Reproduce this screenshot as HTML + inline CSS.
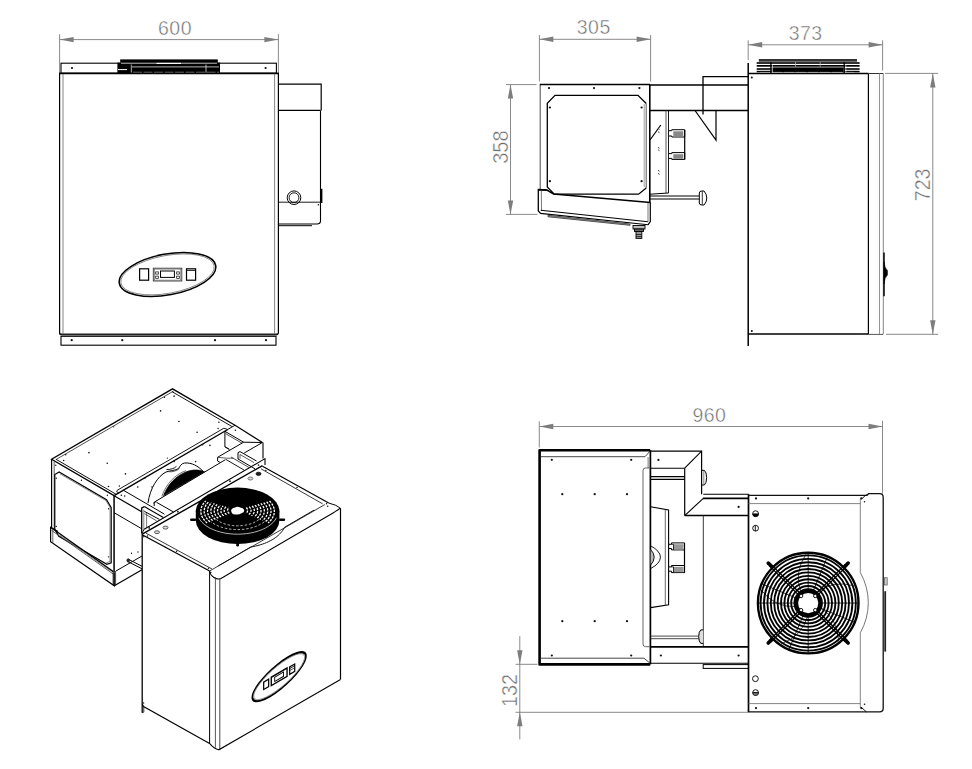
<!DOCTYPE html>
<html><head><meta charset="utf-8"><title>Drawing</title>
<style>html,body{margin:0;padding:0;background:#fff;overflow:hidden}svg{display:block}
text{font-family:"Liberation Sans",sans-serif}</style></head>
<body><svg width="972" height="769" viewBox="0 0 972 769" stroke-linecap="butt" stroke-linejoin="miter">
<rect x="0" y="0" width="972" height="769" fill="#fff"/>
<g id="front">
<line x1="59.60" y1="34.20" x2="59.60" y2="73.00" stroke="#7d7d7d" stroke-width="0.9" />
<line x1="278.40" y1="34.20" x2="278.40" y2="73.00" stroke="#7d7d7d" stroke-width="0.9" />
<line x1="59.60" y1="39.60" x2="278.40" y2="39.60" stroke="#7d7d7d" stroke-width="0.9" />
<polygon points="59.60,39.60 73.60,36.90 73.60,42.30" fill="#7d7d7d"/>
<polygon points="278.40,39.60 264.40,42.30 264.40,36.90" fill="#7d7d7d"/>
<text x="175.00" y="34.80" font-size="19.5" text-anchor="middle" fill="#6e6e6e" stroke="#fff" stroke-width="0.45" letter-spacing="0.5">600</text>
<rect x="61.00" y="63.20" width="215.40" height="10.00" rx="0" stroke="#000" stroke-width="1.1" fill="none"/>
<circle cx="72.00" cy="68.00" r="1.12" fill="#111"/>
<circle cx="265.60" cy="68.00" r="1.12" fill="#111"/>
<g>
<rect x="117.40" y="62.60" width="102.60" height="10.60" rx="0" stroke="#000" stroke-width="0" fill="#000"/>
<rect x="120.20" y="59.40" width="97.60" height="3.20" rx="0" stroke="#000" stroke-width="0" fill="#000"/>
<line x1="121.00" y1="63.40" x2="217.00" y2="63.40" stroke="#fff" stroke-width="0.6" />
<line x1="156.50" y1="63.40" x2="181.00" y2="63.40" stroke="#fff" stroke-width="1.1" />
<line x1="132.00" y1="66.90" x2="219.00" y2="66.90" stroke="#fff" stroke-width="0.7" />
<line x1="118.00" y1="69.60" x2="127.00" y2="69.60" stroke="#fff" stroke-width="1.0" />
<line x1="131.30" y1="64.50" x2="131.30" y2="73.00" stroke="#fff" stroke-width="0.7" />
<line x1="206.00" y1="64.50" x2="206.00" y2="73.00" stroke="#fff" stroke-width="0.7" />
<line x1="133.00" y1="72.30" x2="219.00" y2="72.30" stroke="#fff" stroke-dasharray="9 1.5" stroke-width="0.6" />
</g>
<path d="M59.6 334.6 L59.6 73.4 L278.4 73.4 L278.4 332.6 Q278.4 334.6 276.4 334.6 L61.6 334.6 Q59.6 334.6 59.6 332.6" stroke="#000" stroke-width="1.2" fill="none" />
<line x1="59.20" y1="73.50" x2="278.80" y2="73.50" stroke="#000" stroke-width="1.6" />
<line x1="60.50" y1="334.30" x2="277.50" y2="334.30" stroke="#222" stroke-width="1.8" />
<line x1="63.00" y1="74.00" x2="63.00" y2="333.50" stroke="#666" stroke-width="0.8" />
<line x1="274.60" y1="74.00" x2="274.60" y2="333.50" stroke="#666" stroke-width="0.8" />
<rect x="61.00" y="336.30" width="215.00" height="8.90" rx="0" stroke="#000" stroke-width="1.1" fill="none"/>
<circle cx="71.70" cy="340.20" r="1.12" fill="#111"/>
<circle cx="122.30" cy="340.20" r="1.12" fill="#111"/>
<circle cx="215.00" cy="340.20" r="1.12" fill="#111"/>
<circle cx="266.00" cy="340.20" r="1.12" fill="#111"/>
<path d="M278.40 84.10 L321.20 84.10 L321.20 110.40" stroke="#000" stroke-width="1.2" fill="none" />
<line x1="278.40" y1="110.40" x2="320.60" y2="110.40" stroke="#000" stroke-width="1.1" />
<path d="M320.5 110.4 L320.5 221 Q320.5 224 317 224 L278.4 224" stroke="#000" stroke-width="1.1" fill="none" />
<line x1="278.40" y1="225.70" x2="312.00" y2="225.70" stroke="#000" stroke-width="1.0" />
<line x1="321.60" y1="188.80" x2="321.60" y2="203.00" stroke="#000" stroke-width="1.6" />
<line x1="278.40" y1="202.20" x2="320.50" y2="202.20" stroke="#000" stroke-width="0.9" />
<circle cx="294.00" cy="197.70" r="6.8" stroke="#000" stroke-width="1.0" fill="none"/>
<circle cx="294.00" cy="197.70" r="4.9" stroke="#000" stroke-width="0.9" fill="none"/>
<circle cx="318.40" cy="204.70" r="0.8" fill="#111"/>
<g transform="rotate(-10.5 167.5 274.4)">
<ellipse cx="167.5" cy="274.4" rx="49" ry="20.4" fill="none" stroke="#000" stroke-width="1.5"/>
<ellipse cx="167.5" cy="274.4" rx="47.4" ry="18.9" fill="none" stroke="#444" stroke-width="0.6"/>
</g>
<rect x="139.60" y="268.80" width="9.00" height="11.40" rx="0" stroke="#000" stroke-width="1.2" fill="none"/>
<rect x="153.30" y="268.20" width="28.50" height="12.80" rx="0" stroke="#333" stroke-width="0.9" fill="none"/>
<rect x="154.30" y="269.10" width="26.50" height="11.00" rx="0" stroke="#555" stroke-width="0.6" fill="none"/>
<rect x="160.50" y="271.00" width="13.90" height="6.40" rx="0" stroke="#000" stroke-width="1.0" fill="none"/>
<rect x="155.70" y="271.90" width="2.60" height="2.20" rx="0" stroke="#000" stroke-width="0.7" fill="none"/>
<rect x="155.70" y="276.10" width="2.60" height="2.20" rx="0" stroke="#000" stroke-width="0.7" fill="none"/>
<rect x="176.70" y="271.90" width="2.60" height="2.20" rx="0" stroke="#000" stroke-width="0.7" fill="none"/>
<rect x="176.70" y="276.10" width="2.60" height="2.20" rx="0" stroke="#000" stroke-width="0.7" fill="none"/>
<rect x="186.50" y="268.80" width="9.10" height="11.40" rx="0" stroke="#000" stroke-width="1.2" fill="none"/>
<line x1="186.50" y1="270.40" x2="195.60" y2="270.40" stroke="#000" stroke-width="0.9" />
</g>
<g id="side">
<line x1="539.40" y1="35.00" x2="539.40" y2="81.50" stroke="#7d7d7d" stroke-width="0.9" />
<line x1="650.60" y1="35.00" x2="650.60" y2="81.50" stroke="#7d7d7d" stroke-width="0.9" />
<line x1="539.40" y1="39.30" x2="650.60" y2="39.30" stroke="#7d7d7d" stroke-width="0.9" />
<polygon points="539.40,39.30 553.40,36.60 553.40,42.00" fill="#7d7d7d"/>
<polygon points="650.60,39.30 636.60,42.00 636.60,36.60" fill="#7d7d7d"/>
<text x="593.80" y="34.10" font-size="19.5" text-anchor="middle" fill="#6e6e6e" stroke="#fff" stroke-width="0.45" letter-spacing="0.5">305</text>
<line x1="748.20" y1="40.30" x2="748.20" y2="60.00" stroke="#7d7d7d" stroke-width="0.9" />
<line x1="882.60" y1="40.30" x2="882.60" y2="70.50" stroke="#7d7d7d" stroke-width="0.9" />
<line x1="748.20" y1="44.80" x2="882.60" y2="44.80" stroke="#7d7d7d" stroke-width="0.9" />
<polygon points="748.20,44.80 762.20,42.10 762.20,47.50" fill="#7d7d7d"/>
<polygon points="882.60,44.80 868.60,47.50 868.60,42.10" fill="#7d7d7d"/>
<text x="805.70" y="39.60" font-size="19.5" text-anchor="middle" fill="#6e6e6e" stroke="#fff" stroke-width="0.45" letter-spacing="0.5">373</text>
<line x1="510.50" y1="84.60" x2="510.50" y2="214.40" stroke="#7d7d7d" stroke-width="0.9" />
<line x1="506.00" y1="84.60" x2="536.50" y2="84.60" stroke="#7d7d7d" stroke-width="0.9" />
<line x1="505.80" y1="214.40" x2="537.50" y2="214.40" stroke="#7d7d7d" stroke-width="0.9" />
<polygon points="510.50,84.60 513.20,98.60 507.80,98.60" fill="#7d7d7d"/>
<polygon points="510.50,214.40 507.80,200.40 513.20,200.40" fill="#7d7d7d"/>
<text x="507.80" y="147.10" font-size="21.8" text-anchor="middle" fill="#6e6e6e" stroke="#fff" stroke-width="0.45" letter-spacing="0" transform="rotate(-90 507.80 147.10)" textLength="33.5" lengthAdjust="spacingAndGlyphs">358</text>
<line x1="932.80" y1="73.40" x2="932.80" y2="334.30" stroke="#7d7d7d" stroke-width="0.9" />
<line x1="885.00" y1="73.40" x2="938.20" y2="73.40" stroke="#7d7d7d" stroke-width="0.9" />
<line x1="886.00" y1="334.30" x2="938.20" y2="334.30" stroke="#7d7d7d" stroke-width="0.9" />
<polygon points="932.80,73.40 935.50,87.40 930.10,87.40" fill="#7d7d7d"/>
<polygon points="932.80,334.30 930.10,320.30 935.50,320.30" fill="#7d7d7d"/>
<text x="930.00" y="184.90" font-size="21.8" text-anchor="middle" fill="#6e6e6e" stroke="#fff" stroke-width="0.45" letter-spacing="0" transform="rotate(-90 930.00 184.90)" textLength="32.5" lengthAdjust="spacingAndGlyphs">723</text>
<path d="M540.20 190.00 L540.20 84.60" stroke="#333" stroke-width="0.9" fill="none" />
<line x1="539.80" y1="84.60" x2="650.00" y2="84.60" stroke="#000" stroke-width="1.5" />
<line x1="649.80" y1="84.60" x2="649.80" y2="203.00" stroke="#000" stroke-width="1.6" />
<circle cx="549.00" cy="88.10" r="1.12" fill="#111"/>
<circle cx="594.00" cy="88.10" r="1.12" fill="#111"/>
<circle cx="639.40" cy="88.10" r="1.12" fill="#111"/>
<path d="M646.20 103.50 L638.00 95.40 L555.00 95.40 L547.30 103.20 L547.30 187.00 L554.30 194.20 L638.60 194.20 L646.20 188.00" stroke="#000" stroke-width="1.3" fill="none" />
<line x1="646.20" y1="103.50" x2="646.20" y2="188.00" stroke="#444" stroke-width="0.9" />
<line x1="644.20" y1="104.00" x2="644.20" y2="187.00" stroke="#777" stroke-width="0.7" />
<circle cx="549.90" cy="107.50" r="1.12" fill="#111"/>
<circle cx="641.60" cy="107.50" r="1.12" fill="#111"/>
<circle cx="549.90" cy="181.20" r="1.12" fill="#111"/>
<circle cx="641.60" cy="181.20" r="1.12" fill="#111"/>
<path d="M547.30 189.90 L538.30 189.50 L538.30 211.00 L540.50 213.40" stroke="#000" stroke-width="1.3" fill="none" />
<line x1="541.30" y1="191.00" x2="541.50" y2="211.00" stroke="#555" stroke-width="0.8" />
<path d="M538.30 189.70 L547.30 190.30 L553.60 194.00 L650.30 202.40" stroke="#000" stroke-width="1.5" fill="none" />
<line x1="540.80" y1="210.30" x2="648.00" y2="221.80" stroke="#000" stroke-width="1.1" />
<line x1="540.20" y1="213.40" x2="648.00" y2="224.80" stroke="#000" stroke-width="1.1" />
<path d="M650.30 202.40 L650.30 221.50 L648.00 224.80" stroke="#000" stroke-width="1.2" fill="none" />
<line x1="648.00" y1="203.00" x2="648.00" y2="221.80" stroke="#555" stroke-width="0.8" />
<path d="M548.00 215.30 L630.00 224.00 L630.00 225.30 L548.00 216.80 Z" stroke="#444" stroke-width="0.9" fill="#999" />
<rect x="633.00" y="225.50" width="12.00" height="3.50" rx="0" stroke="#000" stroke-width="0.9" fill="#bbb"/>
<rect x="634.50" y="229.00" width="9.00" height="2.50" rx="0" stroke="#000" stroke-width="0.9" fill="#666"/>
<rect x="636.00" y="231.50" width="5.80" height="6.90" rx="0" stroke="#000" stroke-width="0.9" fill="#999"/>
<line x1="636.00" y1="234.50" x2="641.80" y2="234.50" stroke="#000" stroke-width="0.7" />
<line x1="636.00" y1="236.60" x2="641.80" y2="236.60" stroke="#000" stroke-width="0.7" />
<line x1="650.00" y1="85.00" x2="748.20" y2="85.00" stroke="#000" stroke-width="1.5" />
<line x1="650.00" y1="110.50" x2="748.20" y2="110.50" stroke="#000" stroke-width="1.3" />
<path d="M748.20 76.60 L703.00 76.60 L703.00 114.50" stroke="#000" stroke-width="1.3" fill="none" />
<path d="M695.00 110.50 L716.00 110.50 L716.00 140.00 L695.00 110.50" stroke="#000" stroke-width="1.2" fill="none" />
<line x1="666.00" y1="110.50" x2="666.00" y2="193.00" stroke="#444" stroke-width="0.9" />
<line x1="668.50" y1="110.50" x2="668.50" y2="193.00" stroke="#000" stroke-width="0.9" />
<path d="M650.00 194.20 L668.50 193.00" stroke="#000" stroke-width="1.0" fill="none" />
<line x1="650.00" y1="140.00" x2="660.80" y2="125.00" stroke="#000" stroke-width="1.2" />
<line x1="658.30" y1="128.00" x2="659.30" y2="129.60" stroke="#333" stroke-width="0.9" />
<line x1="658.30" y1="131.50" x2="659.30" y2="133.10" stroke="#333" stroke-width="0.9" />
<line x1="658.30" y1="147.00" x2="659.30" y2="148.60" stroke="#333" stroke-width="0.9" />
<line x1="658.30" y1="149.50" x2="659.30" y2="151.10" stroke="#333" stroke-width="0.9" />
<line x1="658.30" y1="170.00" x2="659.30" y2="171.60" stroke="#333" stroke-width="0.9" />
<line x1="658.30" y1="173.00" x2="659.30" y2="174.60" stroke="#333" stroke-width="0.9" />
<path d="M668.80 130.70 L671.80 130.70 L671.80 129.70 L684.70 129.70 L684.70 137.00 L671.80 137.00 L671.80 136.00 L668.80 136.00" stroke="#000" stroke-width="1.0" fill="none" />
<rect x="673.30" y="131.30" width="9.90" height="5.10" rx="0" stroke="#000" stroke-width="0" fill="#888"/>
<path d="M668.80 153.60 L671.80 153.60 L671.80 152.60 L684.70 152.60 L684.70 159.40 L671.80 159.40 L671.80 158.40 L668.80 158.40" stroke="#000" stroke-width="1.0" fill="none" />
<rect x="673.30" y="154.20" width="9.90" height="4.60" rx="0" stroke="#000" stroke-width="0" fill="#888"/>
<line x1="684.70" y1="130.00" x2="684.70" y2="159.40" stroke="#000" stroke-width="1.2" />
<line x1="650.00" y1="196.00" x2="699.30" y2="196.00" stroke="#000" stroke-width="1.0" />
<line x1="650.00" y1="199.00" x2="699.30" y2="199.00" stroke="#000" stroke-width="1.0" />
<path d="M699.3 193 Q699.3 191 702 191 L704 191 Q706.8 194 706.8 198 Q706.8 202 704 205 L702 205 Q699.3 205 699.3 203 Z" stroke="#000" stroke-width="1.0" fill="none" />
<line x1="702.30" y1="191.40" x2="702.30" y2="204.60" stroke="#000" stroke-width="0.8" />
<line x1="748.20" y1="63.00" x2="748.20" y2="346.00" stroke="#000" stroke-width="1.5" />
<line x1="748.20" y1="73.50" x2="868.40" y2="73.50" stroke="#000" stroke-width="1.6" />
<line x1="868.40" y1="73.50" x2="883.30" y2="73.50" stroke="#333" stroke-width="1.0" />
<line x1="748.20" y1="334.10" x2="868.40" y2="334.10" stroke="#000" stroke-width="1.5" />
<line x1="861.00" y1="334.40" x2="883.30" y2="334.40" stroke="#444" stroke-width="0.9" />
<line x1="868.40" y1="73.50" x2="868.40" y2="334.10" stroke="#000" stroke-width="1.2" />
<line x1="879.50" y1="73.50" x2="879.50" y2="334.10" stroke="#888" stroke-width="0.9" />
<line x1="883.30" y1="73.50" x2="883.30" y2="334.10" stroke="#777" stroke-width="0.9" />
<circle cx="751.80" cy="77.50" r="1.0" fill="#111"/>
<circle cx="751.80" cy="331.00" r="1.0" fill="#111"/>
<line x1="884.00" y1="252.50" x2="884.00" y2="296.30" stroke="#000" stroke-width="1.5" />
<path d="M884 262 Q884.5 268 887.4 270.5 L887.4 275 Q884.5 277.5 884 284 Z" stroke="#000" stroke-width="0.6" fill="#000" />
<rect x="758.80" y="59.00" width="98.20" height="2.70" rx="0" stroke="#000" stroke-width="0" fill="#333"/>
<rect x="756.70" y="62.10" width="102.90" height="1.80" rx="0" stroke="#000" stroke-width="0" fill="#1a1a1a"/>
<rect x="756.70" y="65.00" width="102.90" height="1.70" rx="0" stroke="#000" stroke-width="0" fill="#000"/>
<rect x="771.50" y="67.40" width="72.10" height="4.60" rx="0" stroke="#000" stroke-width="0" fill="#000"/>
<rect x="756.70" y="68.20" width="14.80" height="1.60" rx="0" stroke="#000" stroke-width="0" fill="#000"/>
<rect x="756.70" y="70.80" width="14.80" height="1.20" rx="0" stroke="#000" stroke-width="0" fill="#000"/>
<rect x="843.60" y="68.20" width="16.00" height="1.60" rx="0" stroke="#000" stroke-width="0" fill="#000"/>
<rect x="843.60" y="70.80" width="16.00" height="1.20" rx="0" stroke="#000" stroke-width="0" fill="#000"/>
<line x1="760.00" y1="72.40" x2="856.00" y2="72.40" stroke="#fff" stroke-dasharray="10 2" stroke-width="0.6" />
<rect x="756.70" y="72.70" width="102.90" height="0.80" rx="0" stroke="#000" stroke-width="0" fill="#000"/>
<line x1="770.90" y1="62.00" x2="770.90" y2="73.00" stroke="#000" stroke-width="1.3" />
<line x1="772.50" y1="64.00" x2="772.50" y2="72.50" stroke="#fff" stroke-width="0.6" />
<line x1="844.20" y1="62.00" x2="844.20" y2="73.00" stroke="#000" stroke-width="1.3" />
<line x1="845.80" y1="64.00" x2="845.80" y2="72.50" stroke="#fff" stroke-width="0.6" />
<line x1="795.50" y1="62.00" x2="795.50" y2="66.80" stroke="#bbb" stroke-width="0.7" />
<line x1="820.20" y1="62.00" x2="820.20" y2="66.80" stroke="#bbb" stroke-width="0.7" />
</g>
<g id="top">
<line x1="539.30" y1="421.30" x2="539.30" y2="447.50" stroke="#7d7d7d" stroke-width="0.9" />
<line x1="882.50" y1="420.80" x2="882.50" y2="493.60" stroke="#7d7d7d" stroke-width="0.9" />
<line x1="539.30" y1="426.50" x2="882.50" y2="426.50" stroke="#7d7d7d" stroke-width="0.9" />
<polygon points="539.30,426.50 553.30,423.80 553.30,429.20" fill="#7d7d7d"/>
<polygon points="882.50,426.50 868.50,429.20 868.50,423.80" fill="#7d7d7d"/>
<text x="709.40" y="421.80" font-size="19.5" text-anchor="middle" fill="#6e6e6e" stroke="#fff" stroke-width="0.45" letter-spacing="0.5">960</text>
<line x1="519.80" y1="636.20" x2="519.80" y2="739.40" stroke="#7d7d7d" stroke-width="0.9" />
<line x1="515.60" y1="664.30" x2="537.50" y2="664.30" stroke="#7d7d7d" stroke-width="0.9" />
<line x1="515.60" y1="712.30" x2="748.00" y2="712.30" stroke="#7d7d7d" stroke-width="0.9" />
<polygon points="519.80,664.30 517.10,650.30 522.50,650.30" fill="#7d7d7d"/>
<polygon points="519.80,712.30 522.50,726.30 517.10,726.30" fill="#7d7d7d"/>
<text x="517.00" y="690.40" font-size="21.8" text-anchor="middle" fill="#6e6e6e" stroke="#fff" stroke-width="0.45" letter-spacing="0" transform="rotate(-90 517.00 690.40)" textLength="33" lengthAdjust="spacingAndGlyphs">132</text>
<path d="M650.20 450.30 L539.60 450.30 L539.60 664.40 L650.20 664.40" stroke="#000" stroke-width="2.6" fill="none" stroke-linejoin="round"/>
<path d="M541.00 456.70 L645.00 456.70 L650.00 451.20" stroke="#333" stroke-width="0.9" fill="none" />
<path d="M541.00 658.20 L644.00 658.20 L650.00 663.30" stroke="#333" stroke-width="0.9" fill="none" />
<line x1="650.40" y1="450.30" x2="650.40" y2="664.40" stroke="#000" stroke-width="1.7" />
<line x1="648.10" y1="457.00" x2="648.10" y2="468.00" stroke="#555" stroke-width="0.8" />
<path d="M650 468 L645.4 468 Q643 468 643 470.5 L643 644 Q643 646.7 645.6 646.7 L650 646.7" stroke="#555" stroke-width="0.9" fill="none" />
<circle cx="551.80" cy="459.80" r="1.12" fill="#111"/>
<circle cx="551.80" cy="655.50" r="1.12" fill="#111"/>
<circle cx="631.20" cy="459.80" r="1.12" fill="#111"/>
<circle cx="631.20" cy="655.50" r="1.12" fill="#111"/>
<circle cx="562.30" cy="494.20" r="1.12" fill="#111"/>
<circle cx="562.30" cy="621.20" r="1.12" fill="#111"/>
<circle cx="594.70" cy="494.20" r="1.12" fill="#111"/>
<circle cx="594.70" cy="621.20" r="1.12" fill="#111"/>
<circle cx="627.00" cy="494.20" r="1.12" fill="#111"/>
<circle cx="627.00" cy="621.20" r="1.12" fill="#111"/>
<circle cx="658.40" cy="459.90" r="1.12" fill="#111"/>
<circle cx="660.90" cy="655.50" r="1.12" fill="#111"/>
<circle cx="738.60" cy="506.90" r="1.12" fill="#111"/>
<circle cx="738.60" cy="655.50" r="1.12" fill="#111"/>
<path d="M650.40 451.10 L701.60 451.10 L701.60 494.20" stroke="#000" stroke-width="1.2" fill="none" />
<line x1="701.60" y1="451.10" x2="684.70" y2="468.20" stroke="#000" stroke-width="1.1" />
<line x1="650.60" y1="468.20" x2="684.70" y2="468.20" stroke="#000" stroke-width="1.1" />
<line x1="650.60" y1="476.60" x2="684.70" y2="476.60" stroke="#000" stroke-width="1.1" />
<line x1="650.60" y1="479.40" x2="684.70" y2="479.40" stroke="#000" stroke-width="1.1" />
<line x1="684.70" y1="468.20" x2="684.70" y2="515.60" stroke="#000" stroke-width="1.2" />
<line x1="684.70" y1="515.60" x2="703.30" y2="498.30" stroke="#000" stroke-width="1.1" />
<line x1="703.30" y1="494.20" x2="748.50" y2="494.20" stroke="#000" stroke-width="1.1" />
<line x1="703.00" y1="498.30" x2="748.50" y2="498.30" stroke="#000" stroke-width="1.7" />
<line x1="684.70" y1="515.60" x2="748.50" y2="515.60" stroke="#000" stroke-width="1.5" />
<line x1="703.30" y1="515.60" x2="703.30" y2="646.70" stroke="#222" stroke-width="0.9" />
<path d="M701.6 470.3 L704.3 470.3 Q706.6 472 706.6 477.6 Q706.6 483.3 704.3 485 L701.6 485" stroke="#000" stroke-width="1.0" fill="none" />
<line x1="703.80" y1="470.60" x2="703.80" y2="484.80" stroke="#555" stroke-width="0.7" />
<path d="M650.60 506.80 L668.60 510.00 L668.60 604.80 L650.60 607.60" stroke="#000" stroke-width="1.1" fill="none" />
<path d="M665.30 509.50 L665.30 605.40" stroke="#444" stroke-width="0.8" fill="none" />
<path d="M650.6 545.8 Q660.4 551 660.4 557.2 Q660.4 563.4 650.6 568.6" stroke="#000" stroke-width="0.9" fill="none" />
<path d="M650.6 549.5 Q654.2 553 654.2 557.2 Q654.2 561.4 650.6 565" stroke="#000" stroke-width="0.9" fill="#bbb" />
<path d="M669.00 544.30 L671.50 544.30 L671.50 542.90 L684.50 542.90 L684.50 549.90 L671.50 549.90 L671.50 548.50 L669.00 548.50" stroke="#000" stroke-width="1.0" fill="none" />
<rect x="673.50" y="544.20" width="10.00" height="5.30" rx="0" stroke="#000" stroke-width="0" fill="#999"/>
<path d="M671.50 544.30 L673.50 544.30 L673.50 549.90" stroke="#000" stroke-width="0.8" fill="none" />
<path d="M669.00 566.90 L671.50 566.90 L671.50 565.50 L684.50 565.50 L684.50 572.60 L671.50 572.60 L671.50 571.20 L669.00 571.20" stroke="#000" stroke-width="1.0" fill="none" />
<rect x="673.50" y="566.80" width="10.00" height="5.40" rx="0" stroke="#000" stroke-width="0" fill="#999"/>
<path d="M671.50 566.90 L673.50 566.90 L673.50 572.60" stroke="#000" stroke-width="0.8" fill="none" />
<line x1="684.50" y1="543.00" x2="684.50" y2="572.60" stroke="#000" stroke-width="1.2" />
<line x1="650.60" y1="636.10" x2="698.70" y2="636.10" stroke="#333" stroke-width="0.9" />
<line x1="650.60" y1="638.70" x2="698.70" y2="638.70" stroke="#333" stroke-width="0.9" />
<path d="M703.2 629.9 L700.8 629.9 Q698.7 631.5 698.7 636.6 Q698.7 641.8 700.8 643.4 L703.2 643.4" stroke="#000" stroke-width="1.0" fill="#ddd" />
<line x1="650.40" y1="646.90" x2="748.50" y2="646.90" stroke="#000" stroke-width="1.6" />
<line x1="650.40" y1="663.30" x2="748.50" y2="663.30" stroke="#000" stroke-width="1.1" />
<rect x="703.20" y="664.60" width="45.30" height="3.80" rx="0" stroke="#000" stroke-width="1.0" fill="none"/>
<line x1="748.50" y1="494.20" x2="748.50" y2="712.30" stroke="#000" stroke-width="1.7" />
<path d="M748.5 495.3 L867 495.3 L868.6 493.7 L879.5 493.7 Q883.2 493.7 883.2 497.4 L883.2 708.2 Q883.2 711.9 879.5 711.9 L868.6 711.9 L867 711.9 L748.5 711.9" stroke="#111" stroke-width="1.3" fill="none" />
<line x1="748.50" y1="503.60" x2="860.30" y2="503.60" stroke="#777" stroke-width="0.9" />
<line x1="748.50" y1="703.60" x2="860.30" y2="703.60" stroke="#777" stroke-width="0.9" />
<line x1="860.30" y1="498.80" x2="860.30" y2="572.50" stroke="#777" stroke-width="0.9" />
<line x1="860.30" y1="632.80" x2="860.30" y2="708.00" stroke="#777" stroke-width="0.9" />
<path d="M860.3 572.5 Q868.3 587 868.3 602.7 Q868.3 618.4 860.3 632.8" stroke="#666" stroke-width="0.9" fill="none" />
<circle cx="756.00" cy="498.40" r="1.12" fill="#111"/>
<circle cx="756.00" cy="708.10" r="1.12" fill="#111"/>
<circle cx="808.20" cy="498.40" r="1.12" fill="#111"/>
<circle cx="808.20" cy="708.10" r="1.12" fill="#111"/>
<circle cx="861.30" cy="498.40" r="1.12" fill="#111"/>
<circle cx="861.30" cy="708.10" r="1.12" fill="#111"/>
<circle cx="864.50" cy="501.80" r="0.8" fill="#111"/>
<circle cx="864.60" cy="704.30" r="0.8" fill="#111"/>
<path d="M861.50 499.00 L866.50 494.50" stroke="#000" stroke-width="0.9" fill="none" />
<path d="M861.50 707.50 L866.50 712.00" stroke="#000" stroke-width="0.9" fill="none" />
<circle cx="755.60" cy="513.70" r="2.9" stroke="#000" stroke-width="0.9" fill="none"/>
<path d="M752.7 513.7 A2.9 2.9 0 0 0 758.5 513.7 Z" stroke="#000" stroke-width="0.5" fill="#000" />
<circle cx="755.60" cy="528.20" r="2.9" stroke="#000" stroke-width="0.9" fill="none"/>
<line x1="755.30" y1="525.30" x2="755.30" y2="531.10" stroke="#000" stroke-width="0.9" />
<circle cx="755.40" cy="678.70" r="2.9" stroke="#000" stroke-width="0.9" fill="none"/>
<circle cx="755.60" cy="692.60" r="2.9" stroke="#000" stroke-width="0.9" fill="none"/>
<path d="M752.7 692.6 A2.9 2.9 0 0 0 758.5 692.6 Z" stroke="#000" stroke-width="0.5" fill="#777" />
<line x1="752.70" y1="692.60" x2="758.50" y2="692.60" stroke="#000" stroke-width="0.8" />
<rect x="884.40" y="577.70" width="2.80" height="7.30" rx="0" stroke="#666" stroke-width="0.8" fill="#ccc"/>
<line x1="885.20" y1="591.20" x2="885.20" y2="651.60" stroke="#222" stroke-width="1.8" />
<g transform="translate(808.2 603.05)" stroke="#000" fill="none" vector-effect="non-scaling-stroke">
<path d="M12.2 4.4 Q29.9 16.3 30.5 38.4" stroke-width="0.8" stroke="#222"/>
<path d="M-0.5 13.0 Q-6.3 33.4 -27.1 40.9" stroke-width="0.8" stroke="#222"/>
<path d="M-12.5 3.6 Q-33.7 4.4 -47.2 -13.1" stroke-width="0.8" stroke="#222"/>
<path d="M-7.3 -10.8 Q-14.6 -30.7 -2.1 -49.0" stroke-width="0.8" stroke="#222"/>
<path d="M8.0 -10.2 Q24.7 -23.4 45.9 -17.2" stroke-width="0.8" stroke="#222"/>
<circle r="17" stroke-width="1.85"/>
<circle r="20.4" stroke-width="1.85"/>
<circle r="23.8" stroke-width="1.85"/>
<circle r="27.2" stroke-width="1.85"/>
<circle r="30.6" stroke-width="1.85"/>
<circle r="34" stroke-width="1.85"/>
<circle r="37.4" stroke-width="1.85"/>
<circle r="40.8" stroke-width="1.85"/>
<circle r="44.2" stroke-width="1.85"/>
<circle r="47.6" stroke-width="1.85"/>
<circle r="50.3" stroke-width="2.4"/>
<circle r="12.4" stroke-width="4.6"/>
<line x1="9.97" y1="8.41" x2="38.96" y2="37.41" stroke-width="1.3"/>
<line x1="8.41" y1="9.97" x2="37.41" y2="38.96" stroke-width="1.3"/>
<line x1="36.06" y1="36.06" x2="39.95" y2="39.95" stroke-width="3.6" stroke-linecap="round"/>
<circle cx="7.07" cy="7.07" r="1.7" stroke-width="0.9" fill="#fff"/>
<line x1="-8.41" y1="9.97" x2="-37.41" y2="38.96" stroke-width="1.3"/>
<line x1="-9.97" y1="8.41" x2="-38.96" y2="37.41" stroke-width="1.3"/>
<line x1="-36.06" y1="36.06" x2="-39.95" y2="39.95" stroke-width="3.6" stroke-linecap="round"/>
<circle cx="-7.07" cy="7.07" r="1.7" stroke-width="0.9" fill="#fff"/>
<line x1="-9.97" y1="-8.41" x2="-38.96" y2="-37.41" stroke-width="1.3"/>
<line x1="-8.41" y1="-9.97" x2="-37.41" y2="-38.96" stroke-width="1.3"/>
<line x1="-36.06" y1="-36.06" x2="-39.95" y2="-39.95" stroke-width="3.6" stroke-linecap="round"/>
<circle cx="-7.07" cy="-7.07" r="1.7" stroke-width="0.9" fill="#fff"/>
<line x1="8.41" y1="-9.97" x2="37.41" y2="-38.96" stroke-width="1.3"/>
<line x1="9.97" y1="-8.41" x2="38.96" y2="-37.41" stroke-width="1.3"/>
<line x1="36.06" y1="-36.06" x2="39.95" y2="-39.95" stroke-width="3.6" stroke-linecap="round"/>
<circle cx="7.07" cy="-7.07" r="1.7" stroke-width="0.9" fill="#fff"/>
<line x1="12.93" y1="5.36" x2="46.19" y2="19.13" stroke-width="0.8"/>
<line x1="14.00" y1="0.00" x2="50.00" y2="0.00" stroke-width="0.8"/>
<line x1="-5.36" y1="12.93" x2="-19.13" y2="46.19" stroke-width="0.8"/>
<line x1="0.00" y1="14.00" x2="0.00" y2="50.00" stroke-width="0.8"/>
<line x1="-12.93" y1="-5.36" x2="-46.19" y2="-19.13" stroke-width="0.8"/>
<line x1="-14.00" y1="0.00" x2="-50.00" y2="0.00" stroke-width="0.8"/>
<line x1="5.36" y1="-12.93" x2="19.13" y2="-46.19" stroke-width="0.8"/>
<line x1="-0.00" y1="-14.00" x2="-0.00" y2="-50.00" stroke-width="0.8"/>
</g>
</g>
<g id="iso">
<path d="M114.08 495.66 L51.59 459.27 L172.52 388.86 L235.01 425.24" stroke="#000" stroke-width="1.3" fill="none" />
<path d="M56.45 459.27 L173.73 390.98" stroke="#222" stroke-width="0.8" fill="none" />
<path d="M171.91 391.57 L231.97 426.54" stroke="#111" stroke-width="1.0" fill="none" />
<path d="M55.84 459.16 L115.90 494.13" stroke="#111" stroke-width="1.0" fill="none" />
<path d="M114.08 495.66 L227.73 429.48" stroke="#000" stroke-width="1.4" fill="none" />
<path d="M117.11 490.36 L223.88 428.19" stroke="#000" stroke-width="0.9" fill="none" />
<path d="M117.11 490.36 L116.71 492.01 L118.93 492.83" stroke="#000" stroke-width="0.8" fill="none" />
<path d="M223.88 428.19 L227.73 429.48" stroke="#000" stroke-width="0.9" fill="none" />
<path d="M227.73 429.48 L235.01 425.24" stroke="#000" stroke-width="1.0" fill="none" />
<circle cx="174.09" cy="396.16" r="0.8" fill="#111"/>
<circle cx="218.90" cy="422.25" r="0.8" fill="#111"/>
<circle cx="63.64" cy="460.47" r="0.8" fill="#111"/>
<circle cx="108.45" cy="486.57" r="0.8" fill="#111"/>
<circle cx="160.60" cy="410.92" r="0.8" fill="#111"/>
<circle cx="178.89" cy="421.56" r="0.8" fill="#111"/>
<circle cx="197.12" cy="432.18" r="0.8" fill="#111"/>
<circle cx="88.93" cy="452.65" r="0.8" fill="#111"/>
<circle cx="107.21" cy="463.30" r="0.8" fill="#111"/>
<circle cx="125.44" cy="473.92" r="0.8" fill="#111"/>
<circle cx="164.50" cy="397.28" r="0.7" fill="#111"/>
<circle cx="113.70" cy="426.85" r="0.7" fill="#111"/>
<circle cx="65.73" cy="454.79" r="0.7" fill="#111"/>
<circle cx="218.11" cy="428.50" r="0.7" fill="#111"/>
<circle cx="167.32" cy="458.08" r="0.7" fill="#111"/>
<circle cx="119.35" cy="486.01" r="0.7" fill="#111"/>
<line x1="51.59" y1="459.27" x2="51.59" y2="528.00" stroke="#000" stroke-width="1.2" />
<line x1="114.08" y1="495.66" x2="114.08" y2="572.00" stroke="#000" stroke-width="1.5" />
<line x1="54.19" y1="461.87" x2="54.19" y2="529.50" stroke="#333" stroke-width="0.8" />
<path d="M59.18 472.05 L106.53 499.62 L111.20 507.63 L111.20 562.80 L106.87 564.33 L58.78 536.32 L54.79 529.30 L54.79 474.59 Z" stroke="#000" stroke-width="1.2" fill="none" />
<path d="M59.75 473.69 L105.96 500.59 L110.06 507.62 L110.06 561.48 L106.30 562.69" stroke="#555" stroke-width="0.7" fill="none" />
<circle cx="55.76" cy="465.29" r="0.7" fill="#111"/>
<circle cx="81.43" cy="480.24" r="0.7" fill="#111"/>
<circle cx="107.33" cy="495.32" r="0.7" fill="#111"/>
<circle cx="56.27" cy="478.26" r="0.7" fill="#111"/>
<circle cx="108.58" cy="508.72" r="0.7" fill="#111"/>
<circle cx="56.27" cy="526.38" r="0.7" fill="#111"/>
<circle cx="108.58" cy="556.83" r="0.7" fill="#111"/>
<path d="M58.00 531.50 L50.60 527.30 L50.60 541.80 L114.30 585.80 L114.30 572.20" stroke="#000" stroke-width="1.2" fill="none" />
<line x1="50.60" y1="527.30" x2="113.20" y2="571.60" stroke="#000" stroke-width="1.3" />
<line x1="51.50" y1="530.30" x2="113.20" y2="574.00" stroke="#333" stroke-width="0.8" />
<line x1="113.20" y1="571.60" x2="113.20" y2="585.20" stroke="#000" stroke-width="1.0" />
<line x1="115.60" y1="571.20" x2="115.60" y2="585.60" stroke="#333" stroke-width="0.9" />
<line x1="52.80" y1="529.00" x2="52.80" y2="543.00" stroke="#444" stroke-width="0.8" />
<path d="M114.30 585.80 L142.00 569.80" stroke="#000" stroke-width="1.2" fill="none" />
<path d="M115.60 571.20 L142.00 556.00" stroke="#000" stroke-width="1.0" fill="none" />
<line x1="60.00" y1="535.40" x2="110.00" y2="570.40" stroke="#777" stroke-width="0.9" />
<line x1="128.60" y1="559.40" x2="142.00" y2="566.30" stroke="#000" stroke-width="1.0" />
<line x1="127.60" y1="561.40" x2="142.00" y2="568.80" stroke="#000" stroke-width="1.0" />
<ellipse cx="128.2" cy="560.4" rx="1.3" ry="1.7" fill="#333" stroke="#000" stroke-width="0.6"/>
<circle cx="131.50" cy="553.20" r="0.7" fill="#111"/>
<circle cx="138.00" cy="552.00" r="0.7" fill="#111"/>
<line x1="114.08" y1="495.66" x2="141.58" y2="511.67" stroke="#000" stroke-width="1.2" />
<line x1="123.38" y1="490.24" x2="164.43" y2="514.14" stroke="#000" stroke-width="1.0" />
<line x1="114.08" y1="512.66" x2="141.58" y2="528.67" stroke="#000" stroke-width="1.0" />
<circle cx="121.36" cy="495.19" r="0.8" fill="#111"/>
<path d="M141.70 533.40 L141.70 508.00 L144.40 506.60" stroke="#000" stroke-width="1.3" fill="none" />
<line x1="143.80" y1="509.50" x2="143.80" y2="530.00" stroke="#777" stroke-width="0.9" />
<path d="M144.40 506.60 L163.30 517.60" stroke="#000" stroke-width="1.1" fill="none" />
<path d="M144.40 511.40 L159.40 519.40" stroke="#000" stroke-width="1.0" fill="none" />
<path d="M146.60 512.80 L146.60 527.80" stroke="#555" stroke-width="0.8" fill="none" />
<path d="M144.40 513.60 L156.60 520.80" stroke="#333" stroke-width="0.8" fill="none" />
<circle cx="144.90" cy="477.90" r="0.8" fill="#111"/>
<circle cx="137.70" cy="487.00" r="0.8" fill="#111"/>
<circle cx="152.00" cy="487.00" r="0.8" fill="#111"/>
<circle cx="174.10" cy="461.60" r="0.8" fill="#111"/>
<circle cx="195.60" cy="461.60" r="0.8" fill="#111"/>
<circle cx="202.70" cy="444.70" r="0.8" fill="#111"/>
<circle cx="209.90" cy="445.40" r="0.8" fill="#111"/>
<circle cx="124.70" cy="496.00" r="0.8" fill="#111"/>
<path d="M148 503 C150 488 158 476 166 472 C170 470.5 176 470.5 178.5 468.5 C180 466.5 181 463.5 184.5 463 C192 462.5 198 466 203 471.2" stroke="#000" stroke-width="1.0" fill="none" />
<path d="M166.5 469.5 C170 469.8 174.5 468.5 176.5 466.3" stroke="#000" stroke-width="0.9" fill="none" />
<path d="M168.5 471.7 C172 472.2 177 471 179.5 468.3" stroke="#333" stroke-width="0.8" fill="none" />
<path d="M163.6 495.6 C168 484 176 476 186 472 C193 469.3 199 469.6 204.5 471.8 L163.6 495.6 Z" stroke="#000" stroke-width="0.8" fill="#000" />
<path d="M161.8 496.4 C166 484 175 474.5 186 470.6" stroke="#333" stroke-width="0.7" fill="none" />
<path d="M154.20 506.00 L154.20 502.20 L225.50 459.60" stroke="#000" stroke-width="1.0" fill="none" />
<path d="M153.30 503.20 L156.20 501.60" stroke="#000" stroke-width="0.8" fill="none" />
<line x1="156.50" y1="502.30" x2="173.60" y2="512.00" stroke="#000" stroke-width="1.0" />
<path d="M235.01 425.24 L262.40 442.50" stroke="#000" stroke-width="1.2" fill="none" />
<line x1="263.00" y1="442.50" x2="263.00" y2="458.60" stroke="#000" stroke-width="1.1" />
<line x1="262.40" y1="442.50" x2="243.60" y2="442.20" stroke="#000" stroke-width="1.0" />
<line x1="262.40" y1="442.50" x2="244.20" y2="453.00" stroke="#000" stroke-width="1.0" />
<path d="M243.60 442.20 L224.90 431.30 L224.90 446.80 L229.50 449.40" stroke="#000" stroke-width="1.0" fill="none" />
<line x1="225.50" y1="433.60" x2="242.00" y2="443.20" stroke="#222" stroke-width="0.8" />
<line x1="224.90" y1="446.80" x2="229.00" y2="449.20" stroke="#000" stroke-width="0.8" />
<path d="M243.60 442.20 L217.60 457.30" stroke="#000" stroke-width="1.0" fill="none" />
<path d="M217.60 457.30 L217.60 461.00 L220.00 462.40" stroke="#000" stroke-width="1.0" fill="none" />
<path d="M217.60 457.30 L226.50 458.20 L233.50 458.20" stroke="#333" stroke-width="0.8" fill="none" />
<path d="M238.00 452.60 L238.00 459.00 L255.00 468.80" stroke="#000" stroke-width="1.0" fill="none" />
<path d="M238.00 452.60 L240.00 451.60 L256.50 461.00" stroke="#000" stroke-width="1.0" fill="none" />
<path d="M240.00 454.50 L240.00 458.80" stroke="#444" stroke-width="0.8" fill="none" />
<line x1="240.00" y1="454.50" x2="254.00" y2="462.60" stroke="#333" stroke-width="0.8" />
<line x1="226.00" y1="459.50" x2="244.00" y2="470.00" stroke="#000" stroke-width="0.9" />
<line x1="231.00" y1="457.00" x2="249.00" y2="467.50" stroke="#333" stroke-width="0.9" />
<circle cx="235.41" cy="430.19" r="0.8" fill="#111"/>
<path d="M142.20 534.20 L262.50 465.60" stroke="#000" stroke-width="1.4" fill="none" />
<path d="M144.20 529.20 L265.00 458.60 L265.00 465.00" stroke="#000" stroke-width="1.1" fill="none" />
<path d="M141.90 533.40 L144.20 529.20" stroke="#000" stroke-width="0.9" fill="none" />
<circle cx="149.20" cy="527.90" r="0.85" fill="#111"/>
<circle cx="177.90" cy="511.70" r="0.85" fill="#111"/>
<circle cx="230.00" cy="481.20" r="0.85" fill="#111"/>
<circle cx="258.50" cy="465.00" r="0.85" fill="#111"/>
<path d="M142.20 534.80 L209.60 571.00" stroke="#000" stroke-width="1.3" fill="none" />
<path d="M146.00 533.20 L212.00 569.00" stroke="#222" stroke-width="0.9" fill="none" />
<path d="M262.50 466.30 L328.70 503.00" stroke="#000" stroke-width="1.2" fill="none" />
<path d="M261.00 468.80 L322.60 503.80" stroke="#222" stroke-width="0.9" fill="none" />
<path d="M209.6 571 Q210 575 214 577.5 Q217.6 579.8 221 578.4 L333 513 Q339.5 509 340.3 508.2" stroke="#000" stroke-width="1.1" fill="none" />
<path d="M328.7 503 Q337 505 340.3 508.2" stroke="#000" stroke-width="1.0" fill="none" />
<path d="M209.60 571.00 L324.80 504.60" stroke="#222" stroke-width="0.9" fill="none" />
<circle cx="147.50" cy="536.00" r="0.75" fill="#111"/>
<circle cx="176.60" cy="551.30" r="0.75" fill="#111"/>
<circle cx="208.50" cy="568.20" r="0.75" fill="#111"/>
<circle cx="265.80" cy="470.50" r="0.75" fill="#111"/>
<circle cx="297.00" cy="487.50" r="0.75" fill="#111"/>
<circle cx="326.50" cy="503.80" r="0.75" fill="#111"/>
<circle cx="210.80" cy="572.60" r="0.75" fill="#111"/>
<circle cx="327.70" cy="506.30" r="0.75" fill="#111"/>
<ellipse cx="157" cy="532.2" rx="2.5" ry="1.5" fill="#ddd" stroke="#333" stroke-width="0.8"/>
<ellipse cx="165.5" cy="527.6" rx="2.5" ry="1.5" fill="#ddd" stroke="#333" stroke-width="0.8"/>
<ellipse cx="250.4" cy="478.5" rx="2.5" ry="1.5" fill="#ddd" stroke="#555" stroke-width="0.8"/>
<ellipse cx="258.5" cy="473.8" rx="2.5" ry="1.6" fill="#222" stroke="#000" stroke-width="0.8"/>
<line x1="142.20" y1="534.00" x2="142.20" y2="712.70" stroke="#000" stroke-width="1.3" />
<path d="M142.20 704.00 L143.60 706.60 L210.00 743.80" stroke="#000" stroke-width="1.1" fill="none" />
<path d="M142.20 712.70 L143.80 712.20 L143.80 707.00" stroke="#000" stroke-width="0.8" fill="none" />
<circle cx="143.80" cy="536.80" r="0.7" fill="#111"/>
<circle cx="143.60" cy="703.00" r="0.7" fill="#111"/>
<line x1="209.60" y1="571.00" x2="209.60" y2="743.80" stroke="#000" stroke-width="1.0" />
<line x1="215.40" y1="577.00" x2="215.40" y2="747.50" stroke="#444" stroke-width="0.9" />
<line x1="219.80" y1="579.20" x2="219.80" y2="749.60" stroke="#333" stroke-width="0.9" />
<path d="M210 743.8 Q214 748.6 218.8 749.8 L340.5 679.4" stroke="#000" stroke-width="1.1" fill="none" />
<line x1="340.50" y1="508.20" x2="340.50" y2="679.40" stroke="#000" stroke-width="1.2" />
<path d="M314.23 510.03 L284.60 527.28 L283.75 528.77 L282.82 530.21 L281.79 531.59 L280.68 532.93 L279.47 534.21 L278.18 535.43 L276.79 536.61 L275.32 537.73 L273.75 538.80 L272.10 539.82 L270.35 540.78 L268.51 541.69 L266.58 542.55 L264.57 543.36 L262.46 544.12 L260.26 544.82 L257.97 545.47 L255.59 546.06 L253.12 546.61 L250.56 547.10 L218.28 565.90" stroke="#111" stroke-width="1.0" fill="none" />
<ellipse cx="237.6" cy="520.5" rx="41.8" ry="23.6" fill="#000"/>
<rect x="195.8" y="511.2" width="83.6" height="9.3" fill="#000"/>
<ellipse cx="237.6" cy="511.2" rx="41.8" ry="23.6" fill="#000"/>
<line x1="191.3" y1="519.8" x2="194.9" y2="519.8" stroke="#000" stroke-width="2.6" stroke-linecap="round"/>
<line x1="280.3" y1="519.8" x2="283.9" y2="519.8" stroke="#000" stroke-width="2.6" stroke-linecap="round"/>
<line x1="237.6" y1="542.2" x2="237.6" y2="545.2" stroke="#000" stroke-width="2.8" stroke-linecap="round"/>
<g fill="none" stroke="#fff" stroke-width="1.3">
<path d="M229.3 513.5 L228.8 513.1 L228.4 512.6 L228.1 512.1 L227.8 511.6 L227.7 511.1 L227.6 510.6 L227.6 510.0 L227.7 509.5 L227.9 509.0 L228.1 508.5 L228.5 508.0 L228.9 507.5" stroke-dasharray="2.3 1.1"/>
<path d="M246.3 507.5 L246.7 508.0 L247.1 508.5 L247.3 509.0 L247.5 509.5 L247.6 510.0 L247.6 510.6 L247.5 511.1 L247.4 511.6 L247.1 512.1 L246.8 512.6 L246.4 513.1 L245.9 513.5" stroke-dasharray="2.3 1.1"/>
<path d="M226.5 514.7 L225.9 514.1 L225.3 513.5 L224.9 512.8 L224.5 512.1 L224.3 511.4 L224.2 510.7 L224.2 510.0 L224.4 509.3 L224.6 508.7 L225.0 508.0 L225.4 507.3 L226.0 506.7" stroke-dasharray="2.3 1.1"/>
<path d="M249.2 506.7 L249.8 507.3 L250.2 508.0 L250.6 508.7 L250.8 509.3 L251.0 510.0 L251.0 510.7 L250.9 511.4 L250.7 512.1 L250.3 512.8 L249.9 513.5 L249.3 514.1 L248.7 514.7" stroke-dasharray="2.3 1.1"/>
<path d="M223.7 515.9 L222.9 515.1 L222.2 514.3 L221.7 513.5 L221.3 512.7 L221.0 511.8 L220.9 510.9 L220.9 510.1 L221.1 509.2 L221.4 508.3 L221.8 507.5 L222.4 506.7 L223.1 505.9" stroke-dasharray="2.3 1.1"/>
<path d="M252.1 505.9 L252.8 506.7 L253.4 507.5 L253.8 508.3 L254.1 509.2 L254.3 510.1 L254.3 510.9 L254.2 511.8 L253.9 512.7 L253.5 513.5 L253.0 514.3 L252.3 515.1 L251.5 515.9" stroke-dasharray="2.3 1.1"/>
<path d="M221.0 517.1 L220.0 516.2 L219.2 515.2 L218.5 514.2 L218.0 513.2 L217.7 512.2 L217.5 511.1 L217.6 510.1 L217.8 509.0 L218.1 508.0 L218.7 507.0 L219.4 506.0 L220.2 505.1" stroke-dasharray="2.3 1.1"/>
<path d="M255.0 505.1 L255.8 506.0 L256.5 507.0 L257.1 508.0 L257.4 509.0 L257.6 510.1 L257.7 511.1 L257.5 512.2 L257.2 513.2 L256.7 514.2 L256.0 515.2 L255.2 516.2 L254.2 517.1" stroke-dasharray="2.3 1.1"/>
<path d="M218.2 518.2 L217.1 517.2 L216.1 516.1 L215.3 514.9 L214.8 513.7 L214.4 512.5 L214.2 511.3 L214.2 510.1 L214.5 508.8 L214.9 507.6 L215.5 506.5 L216.3 505.3 L217.3 504.2" stroke-dasharray="2.3 1.1"/>
<path d="M257.9 504.2 L258.9 505.3 L259.7 506.5 L260.3 507.6 L260.7 508.8 L261.0 510.1 L261.0 511.3 L260.8 512.5 L260.4 513.7 L259.9 514.9 L259.1 516.1 L258.1 517.2 L257.0 518.2" stroke-dasharray="2.3 1.1"/>
<path d="M215.4 519.4 L214.1 518.2 L213.0 516.9 L212.2 515.6 L211.5 514.3 L211.1 512.9 L210.9 511.5 L210.9 510.1 L211.2 508.7 L211.6 507.3 L212.4 506.0 L213.3 504.7 L214.4 503.4" stroke-dasharray="2.3 1.1"/>
<path d="M260.8 503.4 L261.9 504.7 L262.8 506.0 L263.6 507.3 L264.0 508.7 L264.3 510.1 L264.3 511.5 L264.1 512.9 L263.7 514.3 L263.0 515.6 L262.2 516.9 L261.1 518.2 L259.8 519.4" stroke-dasharray="2.3 1.1"/>
<path d="M212.6 520.6 L211.2 519.2 L210.0 517.8 L209.0 516.3 L208.2 514.8 L207.8 513.2 L207.5 511.7 L207.6 510.1 L207.8 508.5 L208.4 507.0 L209.2 505.5 L210.3 504.0 L211.5 502.6" stroke-dasharray="2.3 1.1"/>
<path d="M263.7 502.6 L264.9 504.0 L266.0 505.5 L266.8 507.0 L267.4 508.5 L267.6 510.1 L267.7 511.7 L267.4 513.2 L267.0 514.8 L266.2 516.3 L265.2 517.8 L264.0 519.2 L262.6 520.6" stroke-dasharray="2.3 1.1"/>
<path d="M209.9 521.8 L208.3 520.3 L206.9 518.7 L205.8 517.0 L205.0 515.3 L204.4 513.6 L204.2 511.9 L204.2 510.1 L204.5 508.4 L205.2 506.6 L206.0 504.9 L207.2 503.3 L208.6 501.8" stroke-dasharray="2.3 1.1"/>
<path d="M266.6 501.8 L268.0 503.3 L269.2 504.9 L270.0 506.6 L270.7 508.4 L271.0 510.1 L271.0 511.9 L270.8 513.6 L270.2 515.3 L269.4 517.0 L268.3 518.7 L266.9 520.3 L265.3 521.8" stroke-dasharray="2.3 1.1"/>
<path d="M207.1 522.9 L205.3 521.3 L203.8 519.5 L202.6 517.7 L201.7 515.9 L201.1 514.0 L200.8 512.0 L200.9 510.1 L201.2 508.2 L201.9 506.3 L202.9 504.4 L204.2 502.7 L205.7 500.9" stroke-dasharray="2.3 1.1"/>
<path d="M269.5 500.9 L271.0 502.7 L272.3 504.4 L273.3 506.3 L274.0 508.2 L274.3 510.1 L274.4 512.0 L274.1 514.0 L273.5 515.9 L272.6 517.7 L271.4 519.5 L269.9 521.3 L268.1 522.9" stroke-dasharray="2.3 1.1"/>
</g>
<path d="M258.8 519.6 L257.3 520.7 L255.6 521.7 L253.7 522.7 L251.7 523.5 L249.6 524.2 L247.3 524.8 L245.0 525.2 L242.5 525.6 L240.1 525.8 L237.6 525.8 L235.1 525.8 L232.7 525.6 L230.2 525.2 L227.9 524.8 L225.6 524.2 L223.5 523.5 L221.5 522.7 L219.6 521.7 L217.9 520.7 L216.4 519.6" stroke="#fff" stroke-width="0.7" fill="none" stroke-dasharray="2.5 1.8"/>
<path d="M264.3 521.8 L262.4 523.2 L260.2 524.4 L257.9 525.6 L255.4 526.6 L252.7 527.5 L249.8 528.3 L246.9 528.8 L243.8 529.3 L240.7 529.5 L237.6 529.6 L234.5 529.5 L231.4 529.3 L228.3 528.8 L225.4 528.3 L222.5 527.5 L219.8 526.6 L217.3 525.6 L215.0 524.4 L212.8 523.2 L210.9 521.8" stroke="#fff" stroke-width="0.7" fill="none" stroke-dasharray="2.5 1.8"/>
<path d="M276.43 517.75 L275.07 520.05 L273.26 522.25 L271.03 524.33 L268.39 526.27 L265.40 528.04 L262.07 529.61 L258.45 530.98 L254.59 532.12 L250.52 533.02 L246.30 533.67 L241.98 534.07 L237.60 534.20 L233.22 534.07 L228.90 533.67 L224.68 533.02 L220.61 532.12 L216.75 530.98 L213.13 529.61 L209.80 528.04 L206.81 526.27 L204.17 524.33 L201.94 522.25 L200.13 520.05 L198.77 517.75" stroke="#ddd" stroke-width="0.8" fill="none" />
<path d="M231.1 510.2 q1 -2.6 4 -2.8 q2.5 -1.4 5 0 q3.2 0.2 4 2.6 q0.6 2.4 -2.6 3.2 q-2.6 1.8 -6 1.2 q-4.2 0.2 -4.4 -4.2 Z" stroke="#000" stroke-width="0" fill="#fff" />
<g transform="matrix(0.55447 -0.32287 0.00000 0.65290 186.270 551.635)">
<g transform="rotate(-10.5 167.5 274.4)">
<ellipse cx="167.5" cy="274.4" rx="49" ry="20.4" fill="none" stroke="#000" stroke-width="3.0"/>
<ellipse cx="167.5" cy="274.4" rx="46.6" ry="18.3" fill="none" stroke="#444" stroke-width="0.8"/>
</g>
<rect x="139.60" y="268.80" width="9.00" height="11.40" rx="0" stroke="#000" stroke-width="2.2" fill="none"/>
<rect x="153.30" y="268.20" width="28.50" height="12.80" rx="0" stroke="#000" stroke-width="2.4" fill="none"/>
<rect x="159.50" y="271.20" width="15.90" height="6.60" rx="0" stroke="#000" stroke-width="1.6" fill="none"/>
<rect x="186.50" y="268.80" width="9.10" height="11.40" rx="0" stroke="#000" stroke-width="2.2" fill="none"/>
<line x1="186.50" y1="271.40" x2="195.60" y2="271.40" stroke="#000" stroke-width="1.2" />
<line x1="186.50" y1="274.50" x2="195.60" y2="274.50" stroke="#000" stroke-width="1.0" />
</g>
</g>
</svg></body></html>
